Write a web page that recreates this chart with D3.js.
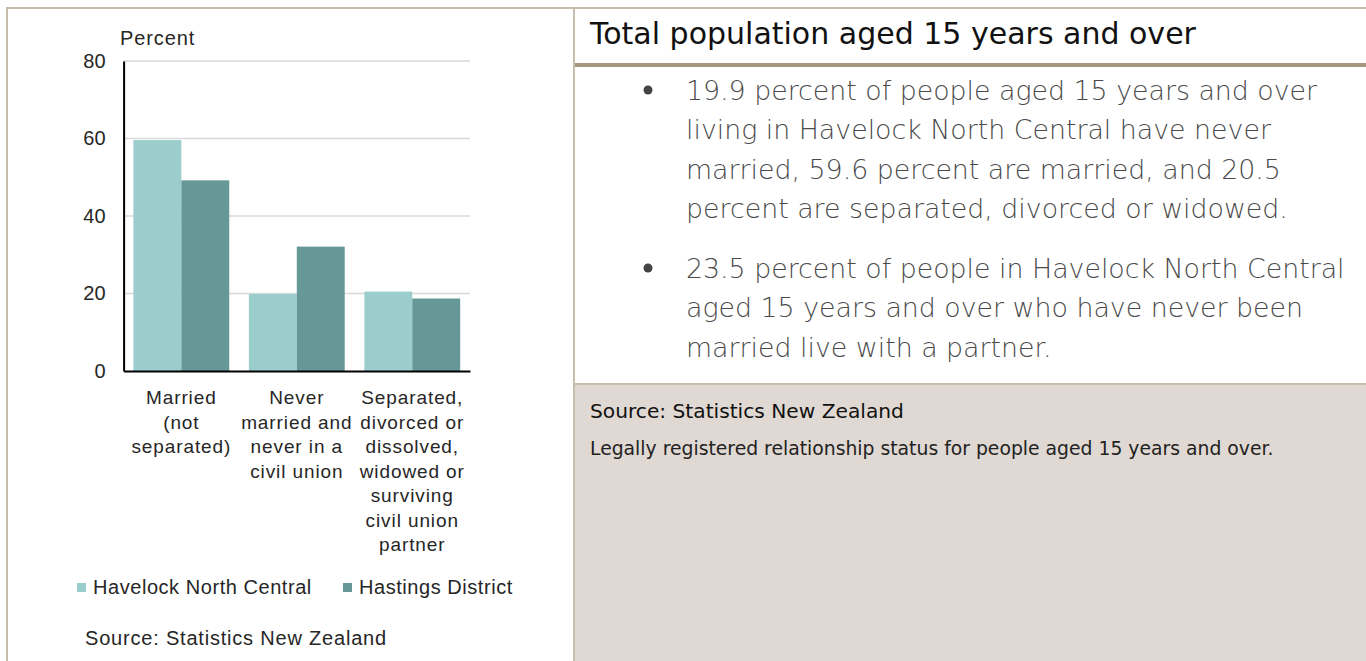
<!DOCTYPE html>
<html>
<head>
<meta charset="utf-8">
<script src="https://cdn.jsdelivr.net/npm/d3@7"></script>
<style>
  html, body { margin: 0; padding: 0; background: #ffffff; }
  svg { display: block; }
</style>
</head>
<body>
<svg id="chart" width="1366" height="661"></svg>
<script>
// ---- data ----
const categories = ["Married (not separated)", "Never married and never in a civil union", "Separated, divorced or dissolved, widowed or surviving civil union partner"];
const categoryLines = [
  ["Married", "(not", "separated)"],
  ["Never", "married and", "never in a", "civil union"],
  ["Separated,", "divorced or", "dissolved,", "widowed or", "surviving", "civil union", "partner"]
];
const seriesNames = ["Havelock North Central", "Hastings District"];
const havelockValues = [59.6, 19.9, 20.5];
const hastingsValues = [49.2, 32.1, 18.7];
const yTicks = [0, 20, 40, 60, 80];
const titleText = "Total population aged 15 years and over";
const bullet1 = ["19.9 percent of people aged 15 years and over",
                 "living in Havelock North Central have never",
                 "married, 59.6 percent are married, and 20.5",
                 "percent are separated, divorced or widowed."];
const bullet2 = ["23.5 percent of people in Havelock North Central",
                 "aged 15 years and over who have never been",
                 "married live with a partner."];
const sourceText = "Source: Statistics New Zealand";
const noteText = "Legally registered relationship status for people aged 15 years and over.";

const colors = ["#9ccdcd", "#669897"];
const svg = d3.select("#chart");

// ---- panels ----
const borderCol = "#c8bcab";
svg.append("rect").attr("x", 574).attr("y", 384).attr("width", 792).attr("height", 277).attr("fill", "#e0d9d3");
svg.append("path").attr("d", "M7,661 V8 H1366").attr("fill", "none").attr("stroke", borderCol).attr("stroke-width", 2);
svg.append("line").attr("x1", 574).attr("x2", 574).attr("y1", 8).attr("y2", 661).attr("stroke", borderCol).attr("stroke-width", 2);
svg.append("line").attr("x1", 575).attr("x2", 1366).attr("y1", 65).attr("y2", 65).attr("stroke", "#a8977f").attr("stroke-width", 4);
svg.append("line").attr("x1", 575).attr("x2", 1366).attr("y1", 384).attr("y2", 384).attr("stroke", borderCol).attr("stroke-width", 2);

// ---- chart ----
const pLeft = 123.6, pRight = 470, pTop = 61, pBottom = 371;
const x0 = d3.scaleBand().domain(categories).range([pLeft, pRight]).paddingInner(0.17).paddingOuter(0.085);
const x1 = d3.scaleBand().domain(seriesNames).range([0, x0.bandwidth()]);
const y = d3.scaleLinear().domain([0, 80]).range([pBottom, pTop]);

const chartFont = "'Liberation Sans', Arial, sans-serif";
const g = svg.append("g");

g.selectAll("line.grid").data(yTicks.filter(d => d > 0)).join("line")
  .attr("class", "grid")
  .attr("x1", pLeft).attr("x2", pRight)
  .attr("y1", d => y(d)).attr("y2", d => y(d))
  .attr("stroke", "#d9d9d9").attr("stroke-width", 1.5);

const series = [havelockValues, hastingsValues];
seriesNames.forEach((s, si) => {
  g.selectAll("rect.s" + si).data(categories).join("rect")
    .attr("class", "s" + si)
    .attr("x", c => x0(c) + x1(s))
    .attr("y", (c, i) => y(series[si][i]))
    .attr("width", x1.bandwidth())
    .attr("height", (c, i) => y(0) - y(series[si][i]))
    .attr("fill", colors[si]);
});

const yAxis = d3.axisLeft(y).tickValues(yTicks).tickSize(0).tickPadding(18);
const ya = g.append("g").attr("transform", `translate(${pLeft},0)`).call(yAxis);
ya.select(".domain").attr("stroke", "#000").attr("stroke-width", 2);
ya.selectAll("text").attr("font-family", chartFont).attr("font-size", 20).attr("fill", "#262626");

const xAxis = d3.axisBottom(x0).tickSize(0).tickFormat("");
const xa = g.append("g").attr("transform", `translate(0,${pBottom})`).call(xAxis);
xa.select(".domain").attr("stroke", "#000").attr("stroke-width", 2);

categories.forEach((c, i) => {
  const cx = x0(c) + x0.bandwidth() / 2;
  const t = g.append("text")
    .attr("x", cx).attr("y", 404)
    .attr("text-anchor", "middle")
    .attr("font-family", chartFont).attr("font-size", 19).attr("letter-spacing", 0.9).attr("fill", "#262626");
  categoryLines[i].forEach((ln, k) => {
    t.append("tspan").attr("x", cx).attr("dy", k === 0 ? 0 : 24.5).text(ln);
  });
});

g.append("text").attr("x", 120).attr("y", 45).text("Percent")
  .attr("font-family", chartFont).attr("font-size", 20).attr("letter-spacing", 0.9).attr("fill", "#262626");

const legendX = [77, 343];
seriesNames.forEach((s, i) => {
  g.append("rect").attr("x", legendX[i]).attr("y", 583).attr("width", 9).attr("height", 9).attr("fill", colors[i]);
  g.append("text").attr("x", legendX[i] + 16).attr("y", 594).text(s)
    .attr("font-family", chartFont).attr("font-size", 20).attr("letter-spacing", 0.55).attr("fill", "#262626");
});
g.append("text").attr("x", 85).attr("y", 645).text(sourceText)
  .attr("font-family", chartFont).attr("font-size", 20).attr("letter-spacing", 0.8).attr("fill", "#262626");

// ---- right panel text ----
const rFont = "'DejaVu Sans', sans-serif";
svg.append("text").attr("x", 590).attr("y", 44).text(titleText)
  .attr("font-family", rFont).attr("font-size", 30).attr("fill", "#111");

function block(lines, y0) {
  svg.append("circle").attr("cx", 648).attr("cy", y0).attr("r", 4.5).attr("fill", "#444");
  const t = svg.append("text").attr("font-family", rFont).attr("font-size", 26.8).attr("fill", "#4a4a4a").attr("font-weight", 200);
  lines.forEach((ln, k) => {
    t.append("tspan").attr("x", 686).attr("y", y0 + 9.5 + k * 39.5).text(ln);
  });
}
block(bullet1, 90);
block(bullet2, 268);

svg.append("text").attr("x", 590).attr("y", 418).text(sourceText)
  .attr("font-family", rFont).attr("font-size", 20.2).attr("fill", "#111");
svg.append("text").attr("x", 590).attr("y", 455).text(noteText)
  .attr("font-family", rFont).attr("font-size", 18.8).attr("fill", "#222");
</script>
</body>
</html>
